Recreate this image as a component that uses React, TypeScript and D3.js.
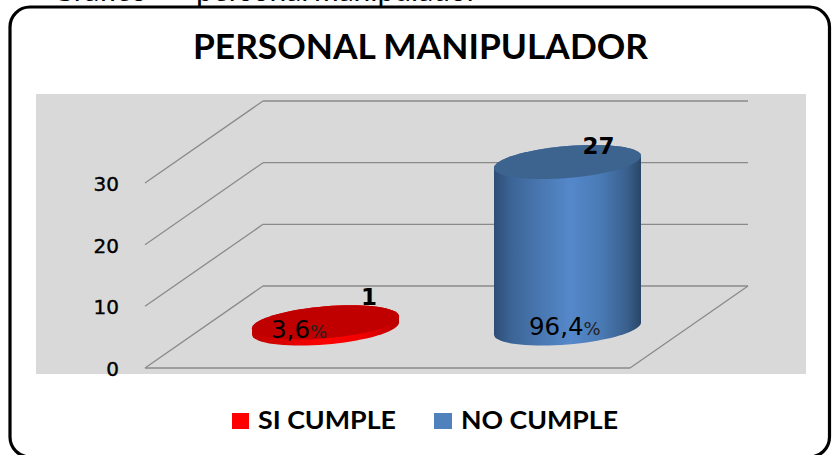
import React from "react";
import * as d3 from "d3";

const W = 832, H = 455;
const title = "PERSONAL MANIPULADOR";
const captionParts = ["Gráfico", "personal", "manipulador"];
const categories = ["SI CUMPLE", "NO CUMPLE"];
const counts = [1, 27];
const percents = ["3,6", "96,4"];
const yTicks = [0, 10, 20, 30];
const legendColors = ["#ff0000", "#4f81bd"];

const y = d3.scaleLinear().domain([0, 30]).range([368, 183]);
const xFront = d3.scaleLinear().domain([0, 1]).range([145, 630]);
const depth = { dx: 118, dy: -82 };
const xBand = d3.scalePoint<number>().domain([0, 1]).range([325.5, 567.5]);
const baseY = 328.5;
const rx = 73.5, skew = 6, ry = 16;
const unit = y(0) - y(1);

const thetas = d3.range(0, 361, 5);
const ellipsePoints = (cx: number, cy: number, from = 0, to = 360): [number, number][] =>
  thetas
    .filter((t) => t >= from && t <= to)
    .map((t) => {
      const a = (t * Math.PI) / 180;
      return [cx + rx * Math.cos(a), cy - skew * Math.cos(a) + ry * Math.sin(a)];
    });
const line = d3.line();

function cylinderSide(cx: number, top: number, bottom: number) {
  const lower = ellipsePoints(cx, bottom, 0, 180);
  const upper = ellipsePoints(cx, top, 180, 360);
  return line([...lower, ...upper]) + "Z";
}

const sideStops = [
  [[0, "#c00000"], [0.3, "#e60000"], [0.5, "#ff0000"], [0.75, "#f00000"], [1, "#b80000"]],
  [[0, "#2d4d75"], [0.12, "#3c6597"], [0.35, "#4b7ab5"], [0.52, "#5588cb"], [0.72, "#4a7bb6"], [0.9, "#3a618f"], [1, "#2a4666"]],
] as [number, string][][];
const topColors = ["#c00000", "#3d648f"];

export default function App() {
  return (
    <svg
      width={W}
      height={H}
      viewBox={`0 0 ${W} ${H}`}
      style={{ position: "fixed", left: 0, top: 0, background: "#fff" }}
    >
      <defs>
        {sideStops.map((stops, i) => (
          <linearGradient id={`side${i}`} key={i} x1="0" x2="1" y1="0" y2="0">
            {stops.map(([o, c]) => (
              <stop key={o} offset={o} stopColor={c} />
            ))}
          </linearGradient>
        ))}
      </defs>

      <text y={1} fontFamily="Lato" fontSize={30} fill="#000">
        <tspan x={52}>{captionParts[0]}</tspan>
        <tspan x={196}>{captionParts[1]}</tspan>
        <tspan x={314}>{captionParts[2]}</tspan>
      </text>

      <rect x={10} y={7} width={819.5} height={450} rx={20} fill="#fff" stroke="#000" strokeWidth={3.2} />

      <text
        x={193}
        y={59}
        fontFamily="Lato"
        fontWeight={700}
        fontSize={34}
        fill="#000"
        textLength={455}
        lengthAdjust="spacingAndGlyphs"
      >
        {title}
      </text>

      <rect x={36} y={94} width={770} height={280} fill="#d9d9d9" />

      <g fill="none" stroke="#8a8a8a" strokeWidth={1.3}>
        {yTicks.map((t) => (
          <g key={t}>
            <line x1={xFront(0)} y1={y(t)} x2={xFront(0) + depth.dx} y2={y(t) + depth.dy} />
            <line x1={xFront(0) + depth.dx} y1={y(t) + depth.dy} x2={xFront(1) + depth.dx} y2={y(t) + depth.dy} />
          </g>
        ))}
        <line x1={xFront(0)} y1={y(0)} x2={xFront(1)} y2={y(0)} />
        <line x1={xFront(1)} y1={y(0)} x2={xFront(1) + depth.dx} y2={y(0) + depth.dy} />
      </g>

      {yTicks.map((t) => (
        <text
          key={t}
          x={119}
          y={y(t) + 8}
          textAnchor="end"
          fontFamily="DejaVu Sans"
          fontSize={20}
          fill="#000"
          stroke="#000"
          strokeWidth={0.4}
        >
          {t}
        </text>
      ))}

      {counts.map((v, i) => {
        const cx = xBand(i)!;
        const top = baseY - v * unit;
        return (
          <g key={i}>
            <path d={cylinderSide(cx, top, baseY)} fill={`url(#side${i})`} />
            <path d={line(ellipsePoints(cx, top)) + "Z"} fill={topColors[i]} />
          </g>
        );
      })}

      {counts.map((v, i) => {
        const cx = xBand(i)!;
        const top = baseY - v * unit;
        return (
          <text
            key={i}
            x={cx + (i === 0 ? 43.5 : 31)}
            y={top + (i === 0 ? -17.5 : -8)}
            textAnchor="middle"
            fontFamily="DejaVu Sans"
            fontWeight={700}
            fontSize={23}
            fill="#000"
          >
            {v}
          </text>
        );
      })}

      {percents.map((p, i) => (
        <text
          key={i}
          x={i === 0 ? 271 : 529}
          y={i === 0 ? 338 : 335}
          fontFamily="DejaVu Sans"
          fontSize={24.5}
          fill="#000"
        >
          {p}
          <tspan fontSize={18} fill="#222">%</tspan>
        </text>
      ))}

      {categories.map((c, i) => (
        <g key={c}>
          <rect x={i === 0 ? 232 : 434} y={413} width={i === 0 ? 17 : 18} height={16} fill={legendColors[i]} />
          <text
            x={i === 0 ? 258 : 461}
            y={428.5}
            fontFamily="Lato"
            fontWeight={700}
            fontSize={24}
            fill="#000"
            textLength={i === 0 ? 138 : 157}
            lengthAdjust="spacingAndGlyphs"
          >
            {c}
          </text>
        </g>
      ))}
    </svg>
  );
}
